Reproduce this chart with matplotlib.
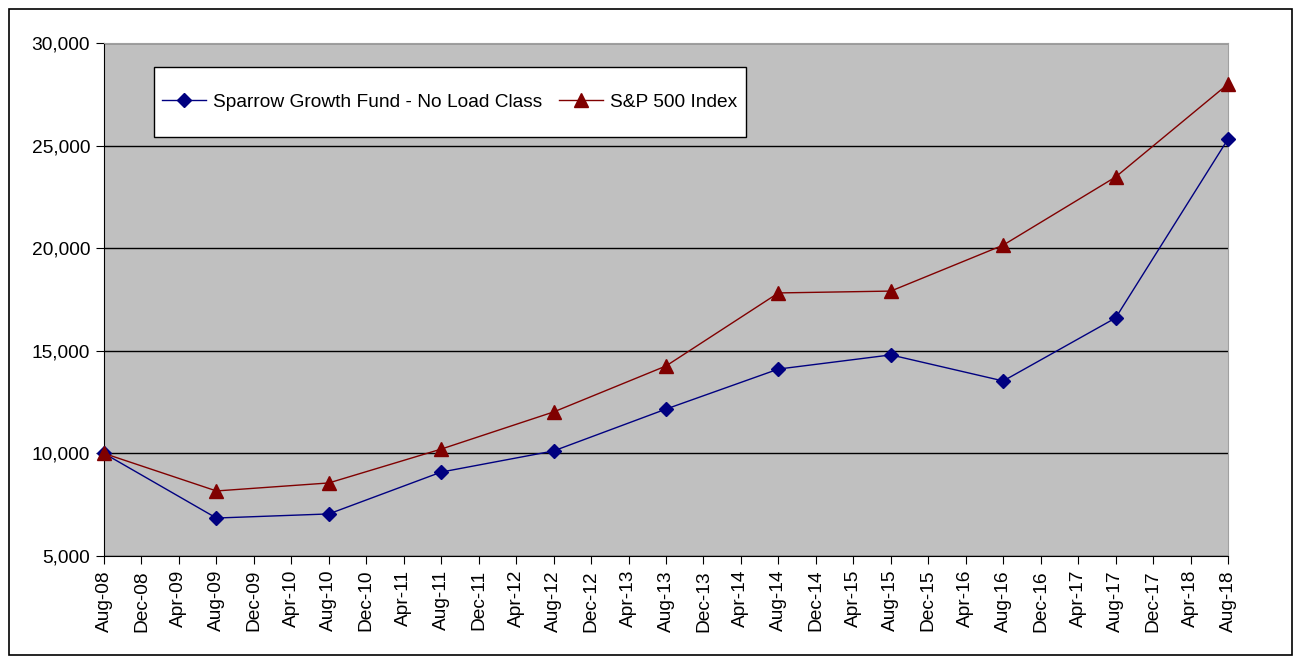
import matplotlib.pyplot as plt
from matplotlib.patches import Rectangle
from matplotlib.ticker import FuncFormatter

# tick labels every 4 months, Aug-08 .. Aug-18
tick_labels = ['Aug-08', 'Dec-08', 'Apr-09', 'Aug-09', 'Dec-09', 'Apr-10', 'Aug-10',
               'Dec-10', 'Apr-11', 'Aug-11', 'Dec-11', 'Apr-12', 'Aug-12', 'Dec-12',
               'Apr-13', 'Aug-13', 'Dec-13', 'Apr-14', 'Aug-14', 'Dec-14', 'Apr-15',
               'Aug-15', 'Dec-15', 'Apr-16', 'Aug-16', 'Dec-16', 'Apr-17', 'Aug-17',
               'Dec-17', 'Apr-18', 'Aug-18']
# yearly observations (each Aug)
obs_labels = ['Aug-08', 'Aug-09', 'Aug-10', 'Aug-11', 'Aug-12', 'Aug-13',
              'Aug-14', 'Aug-15', 'Aug-16', 'Aug-17', 'Aug-18']
fund = [10000, 6850, 7050, 9090, 10120, 12160, 14110, 14800, 13530, 16600, 25320]
sp500 = [10000, 8170, 8560, 10210, 12020, 14260, 17820, 17910, 20150, 23470, 28000]

plt.rcParams['font.family'] = ['Liberation Sans', 'DejaVu Sans']

W, H = 1303, 665
fig = plt.figure(figsize=(W / 100, H / 100), dpi=100)
fig.patch.set_facecolor('white')
fig.patches.append(Rectangle((9 / W, 10 / H), 1283 / W, 646 / H,
                             transform=fig.transFigure, fill=False,
                             edgecolor='black', linewidth=1.2))

ax = fig.add_axes([104 / W, 109 / H, 1124 / W, 513 / H])
ax.set_facecolor('#c0c0c0')

x_obs = [tick_labels.index(l) for l in obs_labels]
ax.plot(x_obs, fund, color='#000080', lw=1, marker='D', ms=7.5,
        label='Sparrow Growth Fund - No Load Class', zorder=3, clip_on=False)
ax.plot(x_obs, sp500, color='#800000', lw=1, marker='^', ms=10,
        label='S&P 500 Index', zorder=3, clip_on=False)

ax.set_xlim(0, len(tick_labels) - 1)
ax.set_ylim(5000, 30000)
ax.set_xticks(range(len(tick_labels)))
ax.set_xticklabels(tick_labels, rotation=90, fontsize=13.8)
ax.set_yticks(range(5000, 30001, 5000))
ax.yaxis.set_major_formatter(FuncFormatter(lambda v, p: f'{int(v):,}'))
ax.tick_params(axis='y', labelsize=13.8, length=6, direction='out', pad=4)
ax.tick_params(axis='x', length=6, direction='out', pad=4)
ax.grid(axis='y', color='black', lw=1)
ax.set_axisbelow(True)
for side in ['top', 'right']:
    ax.spines[side].set_color('#a0a0a0')
for side in ['left', 'bottom']:
    ax.spines[side].set_color('black')

# legend box (white, black edge) drawn separately, legend placed inside
ax.add_patch(Rectangle(((154 - 104) / 1124, 1 - (137 - 43) / 513),
                       592 / 1124, 70 / 513, transform=ax.transAxes,
                       facecolor='white', edgecolor='black', lw=1, zorder=4))
leg = ax.legend(loc='center left', bbox_to_anchor=((162 - 104) / 1124, 1 - (102 - 43) / 513),
                ncol=2, fontsize=13.8, frameon=False, borderpad=0,
                handlelength=2.3, handletextpad=0.35, columnspacing=0.9,
                borderaxespad=0)
leg.set_zorder(5)

fig.savefig('out.png', dpi=100)
